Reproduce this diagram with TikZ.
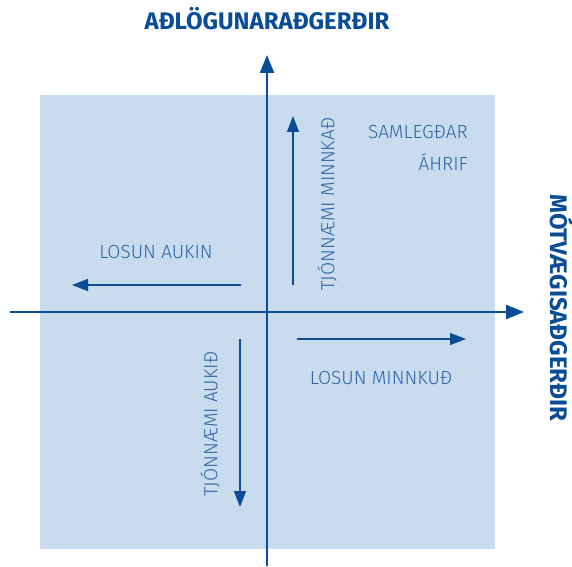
\documentclass[tikz,border=0pt]{standalone}
\usepackage{fontspec}
\setmainfont{Fira Sans}
\newfontfamily\lightfont{Fira Sans Light}
\usetikzlibrary{arrows.meta}
\definecolor{axisblue}{HTML}{0A4C96}
\definecolor{textblue}{HTML}{2F63A6}
\definecolor{fieldblue}{HTML}{C9DCEE}
\tikzset{
  axis/.style={line width=2.6pt, draw=axisblue, -{Triangle[length=18pt,width=14pt]}},
  move/.style={line width=1.3pt, draw=axisblue, -{Triangle[length=16pt,width=12pt]}},
  lab/.style={text=textblue, font=\lightfont\fontsize{19}{23}\selectfont, inner sep=0pt},
  ttl/.style={text=axisblue, font=\bfseries\fontsize{24}{29}\selectfont, inner sep=0pt},
}
\begin{document}
\begin{tikzpicture}[x=1pt,y=1pt]
\useasboundingbox (0,0) rectangle (572,566);
\fill[fieldblue] (40,17) rectangle (495,471);
\coordinate (vb) at (267,0);
\coordinate (vt) at (267,511);
\coordinate (hl) at (10,254);
\coordinate (hr) at (524,254);
\draw[axis] (vb) -- (vt);
\draw[axis] (hl) -- (hr);
\coordinate (ua) at (293,281); \coordinate (ub) at (293,450);
\coordinate (la) at (241,281); \coordinate (lb) at (72,281);
\coordinate (ra) at (297,227); \coordinate (rb) at (466,227);
\coordinate (da) at (240,227); \coordinate (db) at (240,59);
\draw[move] (ua) -- (ub);
\draw[move] (la) -- (lb);
\draw[move] (ra) -- (rb);
\draw[move] (da) -- (db);
\node[ttl] (top) at (267,547) {AÐLÖGUNARAÐGERÐIR};
\node[ttl, rotate=-90] (right) at (562,258) {MÓTVÆGISAÐGERÐIR};
\node[lab] (losa) at (156,314) {LOSUN AUKIN};
\node[lab] (losm) at (381,188) {LOSUN MINNKUÐ};
\node[lab, rotate=90] (tjm) at (327,362) {TJÓNNÆMI MINNKAÐ};
\node[lab, rotate=90] (tja) at (210,142) {TJÓNNÆMI AUKIÐ};
\node[lab, anchor=east] (sam) at (468,434) {SAMLEGÐAR};
\node[lab, anchor=east] (ahr) at (468,404) {ÁHRIF};
\end{tikzpicture}
\end{document}
